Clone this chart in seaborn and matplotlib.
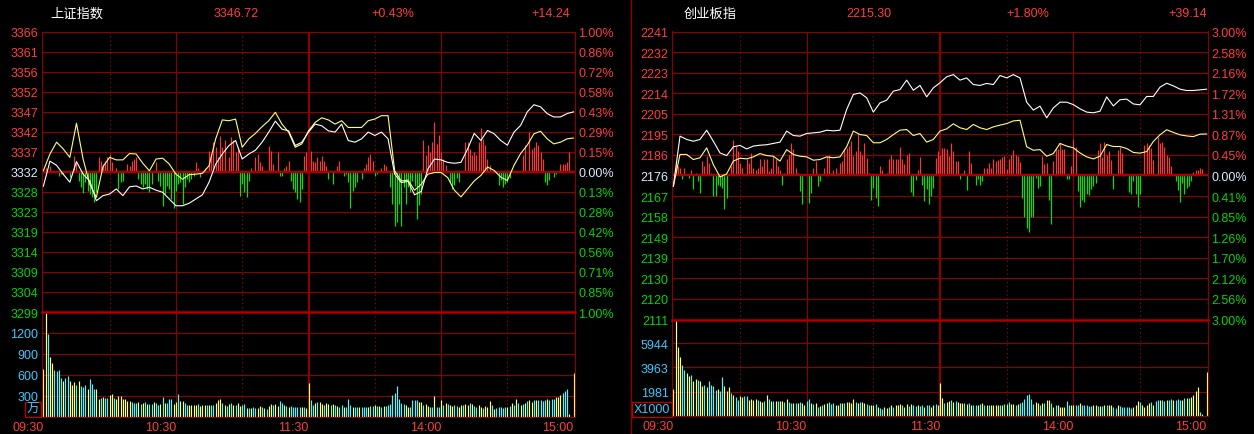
import numpy as np
import matplotlib
matplotlib.use("Agg")
import matplotlib.pyplot as plt
import seaborn as sns

# ---------------- data ----------------
t_line = np.arange(0, 241, 3)   # minutes after 09:30 (lunch break removed)
t_min = np.arange(0, 241)

time_ticks = [0, 60, 120, 180, 240]
time_labels = ["09:30", "10:30", "11:30", "14:00", "15:00"]

# --- 上证指数 ---
sh_name = "上证指数"
sh_head = ["3346.72", "+0.43%", "+14.24"]
sh_pre = 3332.48
sh_price_labels = ["3366", "3361", "3356", "3352", "3347", "3342", "3337", "3332",
                   "3328", "3323", "3319", "3314", "3309", "3304", "3299"]
sh_pct_labels = ["1.00%", "0.86%", "0.72%", "0.58%", "0.43%", "0.29%", "0.15%", "0.00%",
                 "0.13%", "0.28%", "0.42%", "0.56%", "0.71%", "0.85%", "1.00%"]
sh_white = [3329.0, 3335.0, 3334.0, 3331.9, 3330.0, 3334.9, 3331.9, 3330.3, 3325.6, 3326.8,
            3327.2, 3328.4, 3326.8, 3328.9, 3329.1, 3328.4, 3328.8, 3328.1, 3327.6, 3326.0,
            3324.4, 3324.4, 3325.0, 3326.0, 3327.0, 3330.0, 3334.3, 3336.7, 3338.7, 3339.9,
            3335.5, 3336.7, 3337.6, 3339.5, 3341.9, 3344.5, 3342.6, 3342.2, 3338.7, 3339.5,
            3341.9, 3343.8, 3343.4, 3342.2, 3341.9, 3343.8, 3339.9, 3339.5, 3340.3, 3341.9,
            3341.1, 3341.9, 3340.3, 3331.9, 3329.9, 3330.2, 3327.0, 3327.8, 3333.1, 3335.5,
            3335.3, 3334.7, 3334.5, 3334.7, 3337.9, 3341.6, 3339.9, 3342.3, 3341.5, 3339.9,
            3338.8, 3341.9, 3343.5, 3346.7, 3348.4, 3347.9, 3346.3, 3345.5, 3345.5, 3346.3,
            3346.72]
sh_yellow = [3332.7, 3336.7, 3339.5, 3337.9, 3335.9, 3344.0, 3335.5, 3329.5, 3326.4, 3333.7,
             3335.9, 3335.3, 3335.3, 3336.8, 3336.7, 3334.5, 3332.7, 3335.5, 3335.7, 3334.3,
             3331.9, 3330.7, 3331.8, 3331.9, 3332.1, 3333.9, 3340.3, 3344.8, 3344.6, 3345.0,
             3338.3, 3340.3, 3341.6, 3343.2, 3344.6, 3346.6, 3343.8, 3341.9, 3338.3, 3339.1,
             3342.2, 3344.2, 3345.3, 3344.8, 3343.8, 3344.6, 3343.0, 3343.0, 3343.0, 3344.6,
             3345.0, 3345.8, 3345.8, 3332.7, 3330.3, 3330.5, 3328.1, 3329.5, 3331.9, 3332.3,
             3332.3, 3331.1, 3328.1, 3326.5, 3328.4, 3330.3, 3331.6, 3333.6, 3332.8, 3331.2,
             3330.4, 3334.0, 3336.8, 3338.8, 3341.5, 3342.1, 3340.3, 3339.1, 3339.5, 3340.3,
             3340.5]
# red/green bars: (minute, offset from previous close in index points)
sh_rg = [(1, 1.0), (3, 1.4), (7, -1.0), (8, -0.6), (9, -0.6), (12, -1.3), (14, 3.8), (15, 2.6),
         (16, -2.1), (17, -3.7), (18, -5.0), (19, -2.5), (20, -4.5), (21, -5.3), (22, -6.1),
         (23, -7.3), (24, -4.9), (25, 3.4), (26, 2.6), (27, 1.8), (28, 2.6), (29, 3.4), (30, 4.1),
         (31, 2.2), (33, 1.0), (34, -4.1), (35, -2.5), (36, -2.1), (38, 1.8), (39, 1.4), (40, 2.6),
         (41, 3.0), (42, 3.4), (43, -1.7), (44, -3.0), (45, -3.7), (46, -3.0), (47, -4.1),
         (48, -4.9), (49, -3.0), (51, 2.2), (52, -2.1), (53, -3.3), (54, -8.1), (55, -5.3),
         (56, -3.3), (57, -4.1), (58, -6.5), (59, -8.5), (60, -4.5), (61, -2.9), (62, -2.5),
         (63, -7.7), (64, -3.7), (65, -1.7), (66, -2.5), (67, -1.7), (68, -1.0), (69, 2.2),
         (70, 1.0), (71, -1.3), (73, 1.0), (75, 5.0), (76, 4.2), (77, 7.0), (78, 5.8), (79, 3.4),
         (80, 8.6), (81, 5.8), (82, 7.5), (84, 3.4), (85, 8.2), (86, 7.5), (87, 4.6), (88, 5.8),
         (89, -5.7), (90, -3.0), (91, -4.9), (92, -6.1), (93, -2.1), (94, 1.0), (96, 3.4),
         (97, 4.2), (98, 2.2), (99, 1.4), (102, 6.2), (103, 5.0), (104, 1.8), (106, 4.6),
         (107, -1.0), (108, -1.0), (109, 1.0), (110, 1.4), (111, 2.6), (112, -2.1), (113, -4.1),
         (114, -4.9), (115, -6.5), (116, -7.3), (117, -4.1), (118, 3.8), (119, 4.6), (121, 5.0),
         (122, 2.6), (123, 2.2), (124, 3.4), (125, 2.6), (126, 3.8), (127, 2.6), (128, 1.4),
         (129, -1.7), (131, -2.9), (133, 1.4), (134, 2.6), (136, -1.0), (137, -0.6), (138, -2.5),
         (139, -8.5), (140, -4.5), (141, -3.7), (142, -2.5), (144, -1.7), (145, 1.0), (146, 1.8),
         (147, 3.4), (148, 4.2), (149, 2.6), (150, -1.0), (151, -0.6), (153, 1.0), (154, 1.8),
         (155, 1.4), (157, -3.7), (158, -7.7), (159, -13.0), (160, -12.0), (161, -7.7),
         (162, -12.9), (163, -3.7), (164, -7.7), (165, -3.7), (166, -4.9), (167, -2.1),
         (168, -3.3), (169, -11.3), (170, -8.0), (171, -5.3), (172, 7.5), (173, 3.9), (174, 6.3),
         (175, 4.7), (176, 7.1), (177, 11.8), (178, 6.7), (179, 8.7), (180, 4.7), (181, 3.1),
         (182, 1.6), (184, -2.4), (185, -4.0), (186, -3.2), (187, -1.6), (188, -2.4), (191, 7.1),
         (192, 7.1), (193, 5.5), (194, 4.0), (195, 4.7), (196, 4.0), (197, 7.1), (198, 10.3),
         (199, 7.9), (200, 6.3), (201, 3.1), (202, 1.6), (206, -3.2), (207, -2.0), (208, -3.6),
         (209, -2.8), (210, -2.4), (211, -1.6), (217, 3.9), (218, 6.3), (220, 9.5), (221, 5.5),
         (222, 5.9), (223, 7.1), (224, 6.3), (225, 4.7), (226, 3.1), (227, -2.4), (228, -3.2),
         (229, -2.0), (231, -1.3), (232, -0.6), (234, 1.9), (235, 1.9), (236, 1.9), (237, 2.3),
         (238, 4.7)]
# volume per minute, unit 万
sh_vol = [690, 1480, 1190, 857, 776, 666, 652, 666, 562, 509,
          562, 580, 509, 462, 500, 452, 509, 443, 428, 462,
          405, 547, 476, 405, 405, 260, 271, 286, 276, 271,
          319, 328, 271, 262, 295, 300, 262, 262, 233, 233,
          214, 200, 205, 219, 190, 200, 214, 186, 186, 190,
          214, 200, 167, 190, 286, 205, 200, 262, 252, 190,
          214, 333, 233, 224, 205, 167, 167, 167, 167, 167,
          190, 157, 167, 167, 167, 176, 167, 176, 200, 238,
          262, 200, 176, 157, 190, 205, 176, 176, 200, 157,
          176, 190, 133, 133, 133, 143, 133, 133, 152, 143,
          133, 119, 157, 190, 167, 190, 157, 228, 200, 176,
          157, 143, 152, 143, 143, 143, 143, 143, 143, 133,
          490, 238, 167, 205, 214, 214, 190, 176, 205, 190,
          176, 190, 167, 157, 143, 167, 143, 138, 252, 176,
          143, 138, 138, 148, 143, 138, 138, 138, 157, 157,
          167, 152, 157, 148, 152, 157, 167, 186, 319, 347,
          443, 262, 200, 181, 167, 148, 148, 243, 238, 243,
          219, 214, 167, 190, 152, 148, 148, 300, 148, 148,
          248, 167, 200, 186, 176, 157, 167, 152, 138, 167,
          176, 190, 167, 195, 190, 157, 143, 167, 143, 129,
          157, 143, 224, 167, 119, 129, 138, 143, 129, 148,
          138, 152, 205, 176, 252, 205, 176, 190, 205, 224,
          247, 214, 238, 238, 238, 238, 224, 247, 262, 238,
          252, 262, 286, 286, 309, 338, 366, 395, 48, 0,
          633]
sh_vol_color = ("yycyyccccy" "ccyyycyccc" "ycccyycycc" "yycyyyyyyy" "cccycycycc"
                "yccycycccy" "ycyyccyyyy" "cyyycyccyy" "ycycycycyy" "ccycyccyyc"
                "ycyycyyccy" "cycccccycy" "yccycyycyy" "cycyccyccc" "yccycccycc"
                "ycycyccccc" "ccccyycccc" "yycyyccycc" "ycycyyccyy" "cyycyccyyc"
                "yyycyccccc" "ycycycycyc" "yycyccccyc" "ccyyycccyy" "y")
sh_vol_ticks = [300, 600, 900, 1200]
sh_vol_labels = ["300", "600", "900", "1200"]
sh_vol_max = 1500
sh_unit = "万"

# --- 创业板指 ---
cy_name = "创业板指"
cy_head = ["2215.30", "+1.80%", "+39.14"]
cy_pre = 2176.16
cy_price_labels = ["2241", "2232", "2223", "2214", "2205", "2195", "2186", "2176",
                   "2167", "2158", "2149", "2139", "2130", "2120", "2111"]
cy_pct_labels = ["3.00%", "2.58%", "2.16%", "1.72%", "1.31%", "0.87%", "0.45%", "0.00%",
                 "0.41%", "0.85%", "1.26%", "1.70%", "2.12%", "2.56%", "3.00%"]
cy_white = [2171.3, 2194.0, 2192.5, 2191.7, 2192.5, 2196.7, 2191.7, 2186.4, 2185.2, 2189.2,
            2189.8, 2188.2, 2189.5, 2189.9, 2190.1, 2190.7, 2191.3, 2196.3, 2194.3, 2194.0,
            2195.2, 2195.5, 2195.8, 2196.7, 2196.4, 2196.7, 2206.1, 2212.9, 2213.6, 2211.4,
            2204.9, 2209.1, 2210.3, 2214.4, 2215.1, 2219.4, 2214.8, 2217.0, 2211.8, 2215.9,
            2218.2, 2220.9, 2221.9, 2219.4, 2220.4, 2217.4, 2217.0, 2217.9, 2217.4, 2221.5,
            2220.4, 2221.9, 2220.4, 2209.4, 2205.8, 2207.6, 2202.3, 2206.8, 2209.4, 2209.4,
            2208.3, 2206.4, 2204.9, 2204.6, 2205.3, 2211.8, 2207.7, 2210.5, 2210.8, 2208.6,
            2208.2, 2212.0, 2212.0, 2216.2, 2218.0, 2216.8, 2215.3, 2214.7, 2214.7, 2215.0,
            2215.3]
cy_yellow = [2171.2, 2185.7, 2185.7, 2183.4, 2184.2, 2188.7, 2181.1, 2175.5, 2176.9, 2182.7,
             2184.0, 2183.7, 2184.6, 2186.1, 2185.2, 2184.9, 2182.7, 2187.9, 2185.7, 2184.9,
             2184.6, 2183.1, 2183.4, 2184.6, 2184.2, 2184.6, 2189.2, 2196.3, 2194.7, 2194.3,
             2191.0, 2191.0, 2192.5, 2194.7, 2196.7, 2197.0, 2194.3, 2195.2, 2191.3, 2192.5,
             2196.3, 2197.3, 2199.6, 2197.8, 2197.0, 2199.3, 2197.8, 2197.0, 2198.2, 2199.0,
             2199.7, 2200.9, 2201.2, 2189.2, 2187.6, 2187.9, 2184.9, 2186.1, 2190.7, 2189.5,
             2188.7, 2186.4, 2184.6, 2183.7, 2184.9, 2190.2, 2189.3, 2189.3, 2188.4, 2186.6,
             2186.3, 2187.0, 2191.6, 2194.6, 2196.9, 2195.7, 2194.6, 2194.1, 2193.8, 2194.9,
             2195.0]
cy_rg = [(1, 6.5), (2, 4.2), (3, 3.5), (4, -1.8), (5, 3.5), (7, -1.1), (8, 2.7), (9, -6.3),
         (10, 1.2), (11, -2.6), (12, -7.9), (13, 6.5), (14, 4.2), (15, 8.8), (16, 5.7), (17, 1.2),
         (18, -9.4), (19, -9.4), (20, -4.1), (21, -4.8), (22, -5.6), (23, -15.4), (24, -10.1),
         (25, 0.5), (26, 4.2), (27, 16.3), (28, 13.3), (29, 11.0), (30, 5.7), (31, 3.5), (32, 0.5),
         (33, 7.3), (34, 5.7), (35, 10.3), (36, 3.5), (37, 2.7), (38, 3.5), (39, 7.3), (40, 4.2),
         (41, 7.3), (42, 7.3), (43, 2.0), (44, 3.5), (45, 8.8), (46, 7.3), (47, 4.2), (48, 2.7),
         (49, -4.1), (50, 1.2), (51, 7.3), (52, 9.5), (53, 14.8), (54, 11.8), (55, 3.5), (56, 1.2),
         (57, -7.1), (58, -13.1), (59, 0.5), (61, -12.4), (62, -7.9), (63, 3.5), (64, 6.5),
         (65, -4.8), (66, -2.6), (68, 3.5), (69, 8.8), (70, 9.5), (71, 1.2), (72, 2.7), (73, 3.5),
         (74, 1.2), (75, 5.7), (76, 6.5), (77, 11.8), (78, 12.5), (79, 13.3), (80, 15.6),
         (81, 8.8), (82, 11.0), (83, 18.6), (84, 11.0), (85, 9.5), (86, 14.8), (87, 8.0),
         (88, 1.2), (89, -10.9), (90, -5.6), (91, -10.1), (92, -13.9), (93, 4.2), (94, 2.7),
         (95, 0.5), (96, 1.2), (97, 7.6), (98, 9.1), (99, 7.3), (100, 7.3), (101, 7.3),
         (102, 13.0), (103, 7.3), (104, 5.4), (105, 9.1), (106, 10.3), (107, -7.6), (108, -9.4),
         (109, -2.1), (110, 2.7), (111, 8.5), (112, -4.1), (113, -11.6), (114, -6.0),
         (115, -13.1), (116, -9.4), (117, -5.6), (118, 8.0), (119, 11.3), (120, 9.1), (121, 12.4),
         (122, 12.5), (123, 11.8), (124, 8.8), (125, 14.8), (126, 11.0), (127, 6.5), (128, 6.5),
         (129, -1.5), (130, 1.2), (131, 2.3), (132, -6.6), (133, 11.0), (134, 5.7), (136, -4.5),
         (137, -1.4), (138, -4.5), (139, -2.6), (140, 3.2), (141, 3.5), (142, 5.7), (143, 3.5),
         (144, 7.3), (145, 6.5), (146, 6.9), (147, 7.3), (148, 8.5), (149, 8.8), (150, 3.0),
         (151, 7.3), (152, 9.5), (153, 11.5), (154, 9.1), (155, 8.8), (156, 6.0), (157, -10.1),
         (158, -18.7), (159, -23.6), (160, -25.7), (161, -19.0), (162, -19.0), (163, -1.1),
         (164, -5.6), (165, -4.8), (166, 8.8), (167, 5.0), (168, 5.7), (169, -10.9),
         (170, -22.2), (171, 6.5), (172, 12.1), (173, 11.8), (174, 14.8), (175, 12.1),
         (176, 11.8), (177, -1.8), (178, -1.8), (179, 4.2), (180, 16.6), (181, 12.9), (182, -7.1),
         (183, -14.4), (184, -10.9), (185, -12.0), (186, -8.6), (187, -9.0), (188, -6.3),
         (189, -4.8), (190, -3.3), (191, 11.6), (192, 14.6), (193, 8.5), (194, 15.3), (195, 9.4),
         (196, 10.9), (197, 7.1), (198, -5.9), (200, 11.6), (201, 13.1), (202, 10.4), (205, -7.6),
         (206, -8.3), (207, -2.3), (208, -8.3), (209, -14.1), (210, -8.3), (212, 13.9),
         (213, 14.6), (214, 13.9), (215, 12.4), (216, 7.1), (218, 17.5), (219, 14.6), (220, 15.0),
         (221, 13.1), (222, 9.4), (223, 8.5), (224, 4.1), (226, -2.6), (227, -6.6), (228, -12.2),
         (229, -3.6), (230, -8.3), (231, -5.6), (232, -4.6), (233, -2.6), (234, 1.8), (235, 2.6),
         (236, 2.6), (237, 3.3), (238, 2.9)]
# volume per minute, unit x1000
cy_vol = [2208, 7900, 5630, 4802, 4195, 3781, 3505, 3229, 3367, 2815,
          3036, 2953, 2870, 2401, 2539, 2318, 2815, 2484, 2401, 2125,
          2208, 2042, 3146, 2401, 1987, 2318, 1849, 1656, 1490, 1297,
          1573, 1490, 1628, 1573, 1297, 1352, 1297, 1352, 1297, 1214,
          1104, 1214, 1711, 1380, 1214, 1159, 1214, 1159, 1159, 1159,
          1104, 1380, 1104, 994, 1049, 1049, 1049, 1104, 1049, 883,
          1214, 1380, 1049, 938, 994, 718, 800, 828, 938, 1049,
          1104, 938, 994, 883, 828, 994, 1049, 994, 1104, 1104,
          1049, 1380, 1104, 994, 1077, 1104, 994, 938, 883, 828,
          883, 938, 690, 607, 552, 718, 607, 662, 828, 662,
          828, 828, 938, 828, 718, 938, 773, 938, 828, 800,
          828, 773, 828, 718, 883, 883, 718, 828, 938, 828,
          2677, 1435, 1049, 1104, 1159, 1297, 1104, 1159, 1104, 1021,
          1049, 1021, 938, 1021, 883, 883, 883, 828, 938, 1021,
          883, 828, 883, 828, 828, 883, 828, 883, 883, 938,
          938, 1104, 938, 938, 883, 938, 1021, 1104, 1380, 1656,
          1794, 1380, 938, 1104, 994, 883, 1021, 1049, 1297, 1297,
          1021, 718, 883, 828, 718, 662, 662, 1214, 883, 828,
          883, 828, 828, 1021, 828, 828, 828, 745, 745, 828,
          828, 773, 773, 773, 828, 828, 828, 850, 708, 623,
          850, 793, 736, 679, 679, 679, 623, 708, 850, 1189,
          1076, 850, 708, 850, 991, 1076, 906, 1189, 1246, 1274,
          1246, 1189, 1274, 1302, 1359, 1274, 1302, 1359, 1274, 1302,
          1416, 1416, 1472, 1557, 1699, 1982, 2321, 280, 140, 0,
          3620]
cy_vol_color = ("yyyyccyycy" "ycyycycccc" "yccyyycycc" "yyccyyyycy" "ycycycycyy"
                "cyccycycyy" "ccycycycyy" "cccyycycyy" "yycycyyccy" "ycyccyycyc"
                "yyycyycycc" "yccyccyycy" "yycyycycyy" "ycycyccycy" "cycyyyycyc"
                "ycyycycccc" "cccyycycyy" "cycyyyyccy" "yccycccccy" "ycycycyycc"
                "yccccccyyy" "cyyyycyccy" "ccyccycccy" "cycyyyycyy" "y")
cy_vol_ticks = [1981, 3963, 5944]
cy_vol_labels = ["1981", "3963", "5944"]
cy_vol_max = 7925
cy_unit = "X1000"

# ---------------- style ----------------
W, H = 1254, 435
GRID = "#8c0000"
HEAVY = "#aa0000"
RED_TXT = "#ff3c3c"
GRN_TXT = "#00d400"
ZERO_TXT = "#d8ecff"
VOL_TXT = "#3cc8ff"
RED_BAR = "#ff3434"
GRN_BAR = "#00e400"
YEL = "#ffff7a"
CYAN = "#54f4fc"

sns.set_theme(style="dark", rc={"axes.facecolor": "black", "figure.facecolor": "black",
                                "axes.grid": False, "axes.edgecolor": GRID})
plt.rcParams["font.family"] = ["Liberation Sans", "Noto Sans CJK SC", "DejaVu Sans"]

fig = plt.figure(figsize=(W / 100, H / 100), dpi=100, facecolor="black")


def rect(x0, y0, x1, y1):
    return [x0 / W, 1 - y1 / H, (x1 - x0) / W, (y1 - y0) / H]


def label_colors(labels):
    for i, lab in enumerate(labels):
        lab.set_color(RED_TXT if i < 7 else (ZERO_TXT if i == 7 else GRN_TXT))


def vgrid(ax):
    for m in (60, 180):
        ax.axvline(m, color=GRID, lw=0.8, zorder=0)
    ax.axvline(120, color=GRID, lw=1.6, zorder=0)
    for m in (30, 90, 150, 210):
        ax.axvline(m, color="#b00000", lw=0.75, ls=(0, (1, 3)), zorder=0)


def draw_panel(box, name, head, head_x, pre, span, price_labels, pct_labels,
               white, yellow, rg, vol, vcol, vticks, vlabels, vmax, unit, unit_xy):
    x0, x1, ytop, ymid, ybot = box
    ax = fig.add_axes(rect(x0, ytop, x1, ymid))
    axv = fig.add_axes(rect(x0, ymid, x1, ybot))
    lo, hi = pre * (1 - span), pre * (1 + span)
    levels = np.linspace(hi, lo, 15)

    # price area
    for lv in levels[1:-1]:
        ax.axhline(lv, color=GRID, lw=0.8, zorder=0)
    vgrid(ax)
    rg_t = [p[0] for p in rg]
    rg_v = [p[1] for p in rg]
    ax.vlines(rg_t, pre, [pre + v for v in rg_v],
              colors=[RED_BAR if v > 0 else GRN_BAR for v in rg_v], lw=0.85, zorder=2)
    ax.axhline(pre, color=HEAVY, lw=1.7, zorder=2.5)
    sns.lineplot(x=t_line, y=yellow, ax=ax, color=YEL, linewidth=0.8,
                 estimator=None, sort=False, legend=False, zorder=3)
    sns.lineplot(x=t_line, y=white, ax=ax, color="white", linewidth=0.8,
                 estimator=None, sort=False, legend=False, zorder=4)
    ax.set_xlim(-0.6, 240.6)
    ax.set_ylim(lo, hi)
    ax.set_xlabel("")
    ax.set_ylabel("")
    ax.set_xticks([])
    ax.set_yticks(levels)
    ax.set_yticklabels(price_labels)
    label_colors(ax.get_yticklabels())
    ax.tick_params(axis="y", length=0, pad=2.5, labelsize=9)
    for sp in ax.spines.values():
        sp.set_color(GRID)
        sp.set_linewidth(0.8)
    ax.spines["bottom"].set_visible(False)

    axr = ax.twinx()
    axr.set_ylim(lo, hi)
    axr.set_yticks(levels)
    axr.set_yticklabels(pct_labels)
    label_colors(axr.get_yticklabels())
    axr.tick_params(axis="y", length=0, pad=2.5, labelsize=9)
    axr.grid(False)
    for sp in axr.spines.values():
        sp.set_visible(False)

    # volume area
    for v in vticks:
        axv.axhline(v, color=GRID, lw=0.8, zorder=0)
    vgrid(axv)
    axv.vlines(t_min, 0, vol, colors=[CYAN if c == "c" else YEL for c in vcol],
               lw=0.85, zorder=2)
    axv.set_xlim(-0.6, 240.6)
    axv.set_ylim(0, vmax)
    axv.set_yticks(vticks)
    axv.set_yticklabels(vlabels, color=VOL_TXT)
    axv.tick_params(axis="y", length=0, pad=2.5, labelsize=9)
    axv.set_xticks(time_ticks)
    axv.set_xticklabels(time_labels, color=RED_TXT, ha="right")
    axv.tick_params(axis="x", length=0, pad=3, labelsize=9)
    for sp in axv.spines.values():
        sp.set_color(GRID)
        sp.set_linewidth(0.8)
    axv.spines["top"].set_color(HEAVY)
    axv.spines["top"].set_linewidth(1.8)

    # header and unit box
    fig.text(head_x[0] / W, 1 - 14 / H, name, color="white", fontsize=9.5,
             family=["Noto Sans CJK SC", "DejaVu Sans"], ha="center", va="center")
    for txt, hx in zip(head, head_x[1:]):
        fig.text(hx / W, 1 - 14 / H, txt, color=RED_TXT, fontsize=9,
                 ha="center", va="center")
    fig.text(unit_xy[0] / W, 1 - unit_xy[1] / H, unit, color=VOL_TXT, fontsize=9,
             family=["Liberation Sans", "Noto Sans CJK SC"], ha="center", va="center",
             bbox=dict(boxstyle="square,pad=0.12", facecolor="black",
                       edgecolor="#c00000", linewidth=0.9))


draw_panel((42, 575, 32.5, 313, 418), sh_name, sh_head, [77, 236, 393, 551], sh_pre, 0.01,
           sh_price_labels, sh_pct_labels, sh_white, sh_yellow, sh_rg, sh_vol, sh_vol_color,
           sh_vol_ticks, sh_vol_labels, sh_vol_max, sh_unit, (33, 410))
draw_panel((672, 1208, 32.5, 320.5, 416.5), cy_name, cy_head, [710, 869, 1028, 1188], cy_pre, 0.03,
           cy_price_labels, cy_pct_labels, cy_white, cy_yellow, cy_rg, cy_vol, cy_vol_color,
           cy_vol_ticks, cy_vol_labels, cy_vol_max, cy_unit, (652, 410))

# separator between the two panels
fig.add_artist(plt.Line2D([631 / W, 631 / W], [0, 1], transform=fig.transFigure,
                          color=GRID, lw=1.0))

fig.savefig("out.png", dpi=100, facecolor="black")
